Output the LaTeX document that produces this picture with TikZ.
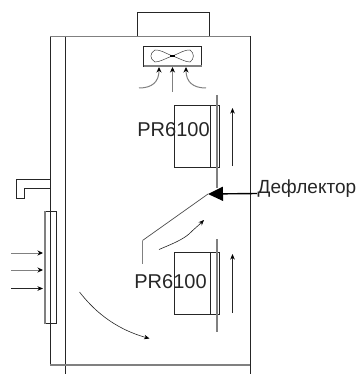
\documentclass[tikz,border=0pt]{standalone}
\usepackage{fontspec}
\setmainfont{Liberation Sans}
\usetikzlibrary{arrows.meta}
\tikzset{
  thin line/.style={draw=black!85,line width=0.7pt},
  gray line/.style={draw=black!50,line width=1.1pt},
  flow/.style={draw=black!85,line width=0.6pt,-{Stealth[length=5.5pt,width=4.5pt,color=black]}},
  grayflow/.style={draw=black!50,line width=1pt,-{Stealth[length=5.5pt,width=5pt,color=black]}},
  label/.style={inner sep=0pt,font=\fontsize{20}{22}\selectfont,text=black!85},
}
\begin{document}
\begin{tikzpicture}[x=1pt,y=-1pt]
\useasboundingbox (0,0) rectangle (356,374);
% cabinet
\draw[thin line] (50,36) -- (50,365);
\draw[thin line] (65,36) -- (65,374);
\draw[thin line] (250,36) -- (250,374);
\draw[gray line] (50,36.5) -- (250,36.5);
\draw[gray line] (50,365) -- (250,365);
% top box
\draw[thin line] (137,36) -- (137,12.5) -- (209.5,12.5) -- (209.5,36);
% fan
\draw[thin line] (143.5,46.5) rectangle (201.5,66);
\draw[gray line] (143.5,66) -- (201.5,66);
\draw[draw=black!75,line width=0.5pt] (172.5,56) .. controls (165,53) and (160,49.5) .. (155,50) .. controls (149.5,53) and (149.5,59) .. (155,62) .. controls (160,62) and (165,58.5) .. (172.5,56)
  .. controls (180,53) and (185,49.5) .. (190,50) .. controls (194.5,53) and (194.5,59) .. (190,62) .. controls (185,62) and (180,58.5) .. (172.5,56) -- cycle;
\draw[line width=1.2pt] (170,56) -- (175,56);
% fan arrows
\draw[grayflow] (172.5,92) -- (172.5,67);
\draw[grayflow] (139,88) .. controls (152,88) and (159,82) .. (159,67);
\draw[grayflow] (206,88) .. controls (193,88) and (186,82) .. (186,67);
% handle
\draw[thin line] (50,179.5) -- (16,179.5) -- (16,198.5) -- (24.5,198.5) -- (24.5,188.5) -- (50,188.5);
% door panel
\draw[thin line] (45,211) rectangle (56.5,323.5);
\draw[gray line] (45,211) -- (45,323.5);
% inlet arrows
\draw[grayflow] (11,253) -- (43,253);
\draw[grayflow] (11,270) -- (43,270);
\draw[flow] (11,288.5) -- (43,288.5);
% upper module
\draw[thin line] (174.5,105.5) rectangle (219.5,167.5);
\draw[thin line] (210.5,105.5) -- (210.5,167.5);
\draw[gray line] (217,95) -- (217,188);
\draw[flow] (232.5,166) -- (232.5,108);
% lower module
\draw[thin line] (174.5,252.5) rectangle (219.5,314.5);
\draw[thin line] (210.5,252.5) -- (210.5,314.5);
\draw[gray line] (217,239) -- (217,332);
\draw[flow] (232.5,313) -- (232.5,254);
% deflector
\coordinate (tip) at (208,194);
\coordinate (kink) at (142.5,240.5);
\coordinate (foot) at (142.5,264);
\draw[draw=black!70,line width=0.7pt] (tip) -- (kink);
\draw[gray line] (kink) -- (foot);
\node[label,anchor=west,font=\fontsize{19}{21}\selectfont] (defl) at (257.5,188.5) {Дефлектор};
\draw[line width=1.4pt,-{Triangle[length=15pt,width=14pt]}] (257,193.5) -- (tip);
% air curves
\draw[flow] (159,249.5) .. controls (172,244) and (182,240) .. (189,234) .. controls (194,229) and (199,225) .. (204,220);
\draw[flow] (79.5,292) .. controls (92,308) and (112,328) .. (149.5,338.5);
% labels
\node[label,anchor=center] (pra) at (173.5,130) {PR6100};
\node[label,anchor=center] (prb) at (170.5,282) {PR6100};
\end{tikzpicture}
\end{document}
